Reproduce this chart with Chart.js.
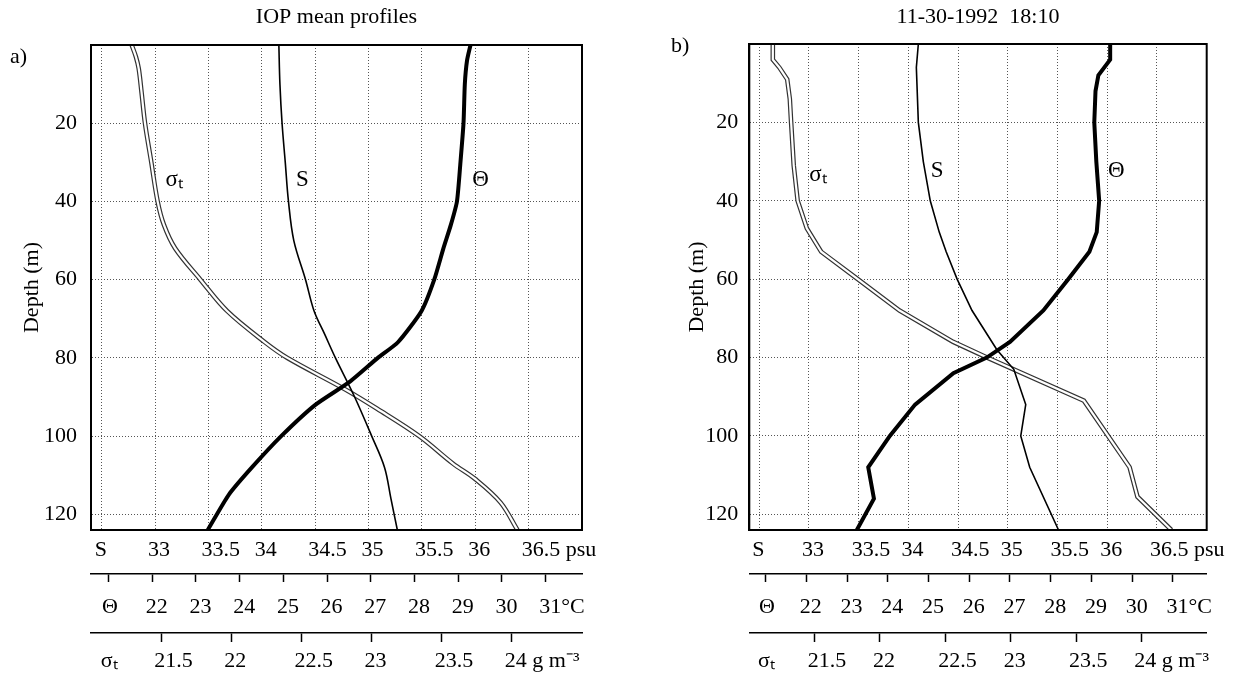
<!DOCTYPE html>
<html>
<head>
<meta charset="utf-8">
<script src="https://cdn.jsdelivr.net/npm/chart.js@4.4.0/dist/chart.umd.min.js"></script>
<style>
  body { margin:0; background:#fff; width:1259px; height:675px; position:relative; overflow:hidden; font-family:"Liberation Serif", serif; }
  canvas { position:absolute; top:0; }
  .tag { position:absolute; font-size:22px; line-height:26px; color:#000; z-index:2; }
</style>
</head>
<body>
<canvas id="ca" width="630" height="675" style="left:0"></canvas>
<canvas id="cb" width="629" height="675" style="left:630px"></canvas>
<div class="tag" style="left:10px;top:43px">a)</div>
<div class="tag" style="left:671px;top:32px">b)</div>
<script>
// ---------- tick values / labels ----------
const DEPTH_TICKS = [20, 40, 60, 80, 100, 120];
const S_TICKS = [32.5, 33, 33.5, 34, 34.5, 35, 35.5, 36, 36.5];
const S_TICK_LABELS = ['S', '33', '33.5', '34', '34.5', '35', '35.5', '36', '36.5 psu'];
const T_TICKS = [21, 22, 23, 24, 25, 26, 27, 28, 29, 30, 31];
const T_TICK_LABELS = ['Θ', '22', '23', '24', '25', '26', '27', '28', '29', '30', '31°C'];
const D_TICKS = [21.12, 21.5, 22, 22.5, 23, 23.5, 24];
const D_TICK_LABELS = ['σₜ', '21.5', '22', '22.5', '23', '23.5', '24 g m⁻³'];

// ---------- panel a) IOP mean profiles ----------
const A_S_DEPTH = [0, 10, 20, 30, 40, 50, 60, 68, 74, 80, 90, 100, 108, 116, 124];
const A_S       = [34.16, 34.17, 34.19, 34.22, 34.25, 34.30, 34.41, 34.49, 34.59, 34.69, 34.87, 35.03, 35.15, 35.21, 35.27];
const A_T_DEPTH = [0, 4, 10, 20, 30, 40, 46, 52, 60, 68, 76, 80, 86, 92, 100, 108, 115, 124];
const A_T       = [29.28, 29.20, 29.15, 29.12, 29.05, 28.97, 28.83, 28.66, 28.45, 28.16, 27.62, 27.16, 26.53, 25.73, 24.95, 24.28, 23.75, 23.27];
const A_D_DEPTH = [0, 3, 6, 12, 20, 30, 40, 46, 52, 60, 68, 76, 80, 88, 93, 100, 107, 111, 117, 124];
const A_D       = [21.29, 21.32, 21.34, 21.36, 21.385, 21.43, 21.475, 21.52, 21.60, 21.78, 21.97, 22.24, 22.40, 22.81, 23.04, 23.34, 23.58, 23.74, 23.92, 24.04];
const A_LABEL_TEXT  = ['σₜ', 'S', 'Θ'];
const A_LABEL_S     = [33.18, 34.38, 36.05];
const A_LABEL_DEPTH = [34.5, 34.5, 34.5];

// ---------- panel b) 11-30-1992 18:10 ----------
const B_S_DEPTH = [0, 6, 20, 30, 40, 48, 53, 60, 68, 78, 83, 92, 100, 108, 124];
const B_S       = [34.10, 34.08, 34.10, 34.15, 34.22, 34.31, 34.38, 34.49, 34.64, 34.89, 35.06, 35.18, 35.13, 35.22, 35.51];
const B_T_DEPTH = [0, 4, 8, 12, 20, 30, 40, 48, 53, 60, 68, 76, 80, 84, 92, 100, 108, 116, 124];
const B_T       = [29.46, 29.46, 29.17, 29.10, 29.07, 29.12, 29.19, 29.13, 28.95, 28.43, 27.82, 27.00, 26.43, 25.61, 24.67, 24.05, 23.52, 23.66, 23.24];
const B_D_DEPTH = [0, 4, 6, 9, 14, 20, 31, 40, 47, 53, 60, 68, 76, 80, 91, 108, 115.5, 124];
const B_D       = [21.18, 21.18, 21.23, 21.29, 21.31, 21.32, 21.34, 21.37, 21.44, 21.55, 21.83, 22.15, 22.56, 22.82, 23.56, 23.91, 23.97, 24.23];
const B_LABEL_TEXT  = ['σₜ', 'S', 'Θ'];
const B_LABEL_S     = [33.09, 34.29, 36.09];
const B_LABEL_DEPTH = [33.5, 32.5, 32.5];

// ---------- builder ----------
const FONT = 'Liberation Serif';
const pts = (xs, ds) => xs.map((v, i) => ({ x: v, y: ds[i] }));
const setTicks = arr => s => { s.ticks = arr.map(v => ({ value: v })); };
const fixW = w => s => { s.width = w; };
const fixH = h => s => { s.height = h; };
const tickFont = { family: FONT, size: 22 };
const GRID_DASH = [1, 2];

function build(id, p) {
  const frame = {
    id: 'frame',
    afterDatasetsDraw(chart) {
      const { ctx, chartArea: a } = chart;
      ctx.save();
      ctx.strokeStyle = '#000';
      ctx.lineWidth = 2;
      ctx.strokeRect(a.left, a.top, a.right - a.left, a.bottom - a.top);
      ctx.restore();
    }
  };
  const curveLabels = {
    id: 'curveLabels',
    afterDatasetsDraw(chart) {
      const ctx = chart.ctx, xs = chart.scales.xS, y = chart.scales.y;
      ctx.save();
      ctx.font = '23px "' + FONT + '"';
      ctx.fillStyle = '#000';
      ctx.textAlign = 'center';
      ctx.textBaseline = 'middle';
      p.labelText.forEach((t, i) => ctx.fillText(t, xs.getPixelForValue(p.labelS[i]), y.getPixelForValue(p.labelDepth[i])));
      ctx.restore();
    }
  };
  const line = (extra) => Object.assign({ showLine: true, pointRadius: 0, pointHoverRadius: 0, yAxisID: 'y', fill: false }, extra);

  new Chart(document.getElementById(id), {
    type: 'scatter',
    data: {
      datasets: [
        line({ label: 'Θ', data: pts(p.T, p.Tdepth), xAxisID: 'xT', borderColor: '#000', borderWidth: 4, tension: p.tensionT, order: 0 }),
        line({ label: 'S', data: pts(p.S, p.Sdepth), xAxisID: 'xS', borderColor: '#000', borderWidth: 1.6, tension: p.tension, order: 1 }),
        line({ label: 'σt (inner)', data: pts(p.D, p.Ddepth), xAxisID: 'xD', borderColor: '#fff', borderWidth: 2.2, tension: p.tension, order: 2 }),
        line({ label: 'σt', data: pts(p.D, p.Ddepth), xAxisID: 'xD', borderColor: '#333', borderWidth: 4.6, tension: p.tension, order: 3 })
      ]
    },
    options: {
      responsive: false,
      animation: false,
      devicePixelRatio: 1,
      layout: { padding: { left: p.padL, right: p.padR, top: 0, bottom: 0 } },
      plugins: {
        legend: { display: false },
        tooltip: { enabled: false },
        title: {
          display: true, text: p.title, fullSize: false, color: '#000',
          font: { family: FONT, size: 22, weight: 'normal' },
          padding: { top: p.titleTop, bottom: p.titleBottom }
        }
      },
      scales: {
        y: {
          type: 'linear', position: 'left', reverse: true, min: 0, max: 124,
          afterBuildTicks: setTicks(DEPTH_TICKS), afterFit: fixW(p.yW),
          ticks: { font: tickFont, color: '#000', padding: p.yPad, autoSkip: false },
          grid: { color: '#555', lineWidth: 1, drawTicks: false },
          border: { display: true, color: '#000', width: 2, dash: GRID_DASH },
          title: { display: true, text: 'Depth (m)', color: '#000', font: { family: FONT, size: 22 }, padding: 0 }
        },
        xS: {
          type: 'linear', axis: 'x', position: 'bottom', weight: 0, min: 32.4, max: 37.0,
          afterBuildTicks: setTicks(S_TICKS), afterFit: fixH(44),
          ticks: { font: tickFont, color: '#000', padding: 7, align: 'start', labelOffset: -7, autoSkip: false, maxRotation: 0,
                   callback: (v, i) => S_TICK_LABELS[i] },
          grid: { color: '#555', lineWidth: 1, drawTicks: false },
          border: { display: true, color: '#000', width: 2, dash: GRID_DASH }
        },
        xT: {
          type: 'linear', axis: 'x', position: 'bottom', weight: 1, min: 20.6, max: 31.83,
          afterBuildTicks: setTicks(T_TICKS), afterFit: fixH(59),
          ticks: { font: tickFont, color: '#000', padding: 12, align: 'start', labelOffset: -6.5, autoSkip: false, maxRotation: 0,
                   callback: (v, i) => T_TICK_LABELS[i] },
          grid: { drawOnChartArea: false, drawTicks: true, tickLength: 8, tickColor: '#000', tickWidth: 1.5 },
          border: { display: true, color: '#000', width: 1.5 }
        },
        xD: {
          type: 'linear', axis: 'x', position: 'bottom', weight: 2, min: 21.0, max: 24.5,
          afterBuildTicks: setTicks(D_TICKS), afterFit: fixH(42),
          ticks: { font: tickFont, color: '#000', padding: 6, align: 'start', labelOffset: -7, autoSkip: false, maxRotation: 0,
                   callback: (v, i) => D_TICK_LABELS[i] },
          grid: { drawOnChartArea: false, drawTicks: true, tickLength: 9, tickWidth: 1.5,
                  tickColor: ctx => (ctx.tick && ctx.tick.value === D_TICKS[0]) ? 'rgba(0,0,0,0)' : '#000' },
          border: { display: true, color: '#000', width: 1.5 }
        }
      }
    },
    plugins: [frame, curveLabels]
  });
}

build('ca', {
  title: 'IOP mean profiles',
  S: A_S, Sdepth: A_S_DEPTH, T: A_T, Tdepth: A_T_DEPTH, D: A_D, Ddepth: A_D_DEPTH,
  labelText: A_LABEL_TEXT, labelS: A_LABEL_S, labelDepth: A_LABEL_DEPTH,
  padL: 19, padR: 48, yW: 72, yPad: 14, titleTop: 4.3, titleBottom: 14.3,
  tension: 0.35, tensionT: 0.2
});
build('cb', {
  title: '11-30-1992  18:10',
  S: B_S, Sdepth: B_S_DEPTH, T: B_T, Tdepth: B_T_DEPTH, D: B_D, Ddepth: B_D_DEPTH,
  labelText: B_LABEL_TEXT, labelS: B_LABEL_S, labelDepth: B_LABEL_DEPTH,
  padL: 53.8, padR: 52.3, yW: 65.5, yPad: 11, titleTop: 4.3, titleBottom: 13.3,
  tension: 0, tensionT: 0
});
</script>
</body>
</html>
